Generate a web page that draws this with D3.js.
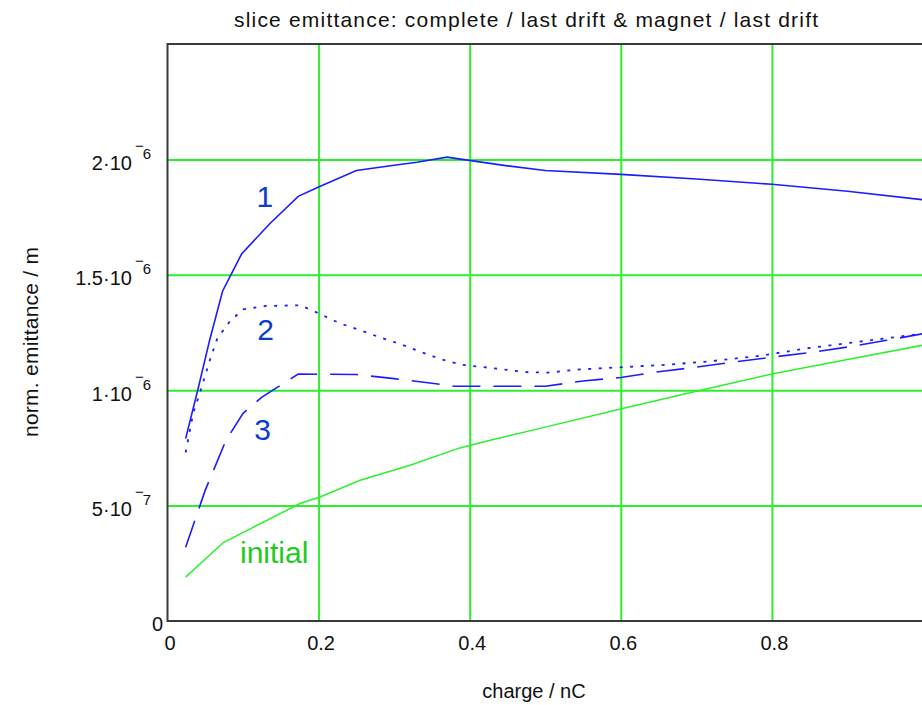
<!DOCTYPE html>
<html>
<head>
<meta charset="utf-8">
<script src="https://cdn.jsdelivr.net/npm/d3@7"></script>
<style>
  html, body { margin: 0; padding: 0; background: #ffffff; }
  svg { display: block; font-family: "Liberation Sans", Arial, Helvetica, sans-serif; }
</style>
</head>
<body>
<svg id="chart" width="922" height="705"></svg>
<script>
// ---- data: slice emittance (m) versus bunch charge (nC) ----
// curve 1: complete beamline
const chargeComplete = [0.024, 0.04, 0.056, 0.073, 0.098, 0.135, 0.173, 0.2, 0.25, 0.3, 0.33, 0.37, 0.39, 0.42, 0.45, 0.5, 0.6, 0.7, 0.8, 0.9, 1.0];
const emitComplete   = [0.79e-6, 1.0e-6, 1.22e-6, 1.43e-6, 1.59e-6, 1.72e-6, 1.84e-6, 1.88e-6, 1.952e-6, 1.975e-6, 1.988e-6, 2.01e-6, 2.0e-6, 1.986e-6, 1.972e-6, 1.952e-6, 1.935e-6, 1.915e-6, 1.892e-6, 1.862e-6, 1.825e-6];

// curve 2: last drift & magnet
const chargeDriftMagnet = [0.024, 0.034, 0.044, 0.057, 0.066, 0.083, 0.1, 0.13, 0.176, 0.2, 0.228, 0.255, 0.28, 0.308, 0.336, 0.362, 0.39, 0.432, 0.475, 0.503, 0.546, 0.603, 0.66, 0.717, 0.787, 0.843, 0.915, 1.0];
const emitDriftMagnet   = [0.73e-6, 0.90e-6, 1.0e-6, 1.14e-6, 1.225e-6, 1.30e-6, 1.35e-6, 1.365e-6, 1.368e-6, 1.333e-6, 1.29e-6, 1.26e-6, 1.23e-6, 1.20e-6, 1.165e-6, 1.134e-6, 1.11e-6, 1.095e-6, 1.078e-6, 1.076e-6, 1.09e-6, 1.10e-6, 1.11e-6, 1.125e-6, 1.15e-6, 1.18e-6, 1.21e-6, 1.245e-6];

// curve 3: last drift only
const chargeDrift = [0.024, 0.05, 0.077, 0.1, 0.125, 0.173, 0.25, 0.3, 0.35, 0.38, 0.5, 0.55, 0.6, 0.65, 0.7, 0.75, 0.8, 0.85, 0.9, 0.95, 1.0];
const emitDrift   = [0.32e-6, 0.567e-6, 0.78e-6, 0.9e-6, 0.97e-6, 1.07e-6, 1.068e-6, 1.05e-6, 1.03e-6, 1.017e-6, 1.017e-6, 1.04e-6, 1.055e-6, 1.08e-6, 1.1e-6, 1.122e-6, 1.143e-6, 1.163e-6, 1.187e-6, 1.215e-6, 1.245e-6];

// initial emittance
const chargeInitial = [0.024, 0.074, 0.11, 0.176, 0.202, 0.255, 0.321, 0.387, 0.423, 0.5, 0.601, 0.7, 0.8, 0.9, 1.0];
const emitInitial   = [0.19e-6, 0.34e-6, 0.40e-6, 0.51e-6, 0.537e-6, 0.61e-6, 0.675e-6, 0.75e-6, 0.78e-6, 0.84e-6, 0.92e-6, 0.995e-6, 1.07e-6, 1.133e-6, 1.195e-6];

// axis ticks and labels
const xGridTicks = [0.2, 0.4, 0.6, 0.8, 1.0];
const xLabelTicks = [0, 0.2, 0.4, 0.6, 0.8];
const xTickLabels = ["0", "0.2", "0.4", "0.6", "0.8"];
const yGridTicks = [0.5e-6, 1e-6, 1.5e-6, 2e-6];
const yLabelTicks = [0, 0.5e-6, 1e-6, 1.5e-6, 2e-6];
const yTickMantissa = ["0", "5", "1", "1.5", "2"];
const yTickExponent = [null, "7", "6", "6", "6"];

const titleText = "slice emittance: complete / last drift & magnet / last drift";
const xAxisTitle = "charge / nC";
const yAxisTitle = "norm. emittance / m";

// curve annotations, anchored in data units
const curveNames = ["1", "2", "3", "initial"];
const nameCharge = [0.129, 0.130, 0.126, 0.096];
const nameEmit   = [1.794e-6, 1.217e-6, 0.784e-6, 0.251e-6];

// ---- drawing ----
const svg = d3.select("#chart");
const blue = "#1c1cff", green = "#2cf02c", frameColor = "#3a3a3a";

const x = d3.scaleLinear().domain([0, 1]).range([167.5, 923]);
const y = d3.scaleLinear().domain([0, 2.5e-6]).range([621, 44]);
const [plotLeft, plotRight] = x.range();
const [plotBottom, plotTop] = y.range();

// gridlines
const gx = svg.append("g")
  .attr("transform", `translate(0,${plotBottom})`)
  .call(d3.axisBottom(x).tickValues(xGridTicks).tickSize(-(plotBottom - plotTop)).tickFormat(""));
gx.select(".domain").remove();
gx.selectAll("line").attr("stroke", green).attr("stroke-width", 2);

const gy = svg.append("g")
  .attr("transform", `translate(${plotLeft},0)`)
  .call(d3.axisLeft(y).tickValues(yGridTicks).tickSize(-(plotRight - plotLeft)).tickFormat(""));
gy.select(".domain").remove();
gy.selectAll("line").attr("stroke", green).attr("stroke-width", 2);

// curves
const line = d3.line().x(d => x(d[0])).y(d => y(d[1]));
const curves = [
  { xs: chargeInitial, ys: emitInitial, color: green, width: 1.5, dash: null },
  { xs: chargeDrift, ys: emitDrift, color: blue, width: 1.6, dash: "28,13" },
  { xs: chargeDriftMagnet, ys: emitDriftMagnet, color: blue, width: 1.8, dash: "3,7.5" },
  { xs: chargeComplete, ys: emitComplete, color: blue, width: 1.6, dash: null }
];
curves.forEach(c => {
  svg.append("path")
    .datum(d3.zip(c.xs, c.ys))
    .attr("d", line)
    .attr("fill", "none")
    .attr("stroke", c.color)
    .attr("stroke-width", c.width)
    .attr("stroke-dasharray", c.dash);
});

// frame (left, bottom and top edges)
svg.append("path")
  .attr("d", `M${plotRight},${plotTop}H${plotLeft}V${plotBottom}H${plotRight}`)
  .attr("fill", "none")
  .attr("stroke", frameColor)
  .attr("stroke-width", 2);

// x tick labels
const ax = svg.append("g")
  .attr("transform", `translate(0,${plotBottom})`)
  .call(d3.axisBottom(x).tickValues(xLabelTicks).tickSize(0)
    .tickFormat((d, i) => xTickLabels[i]));
ax.select(".domain").remove();
ax.attr("font-family", null).attr("font-size", null);
ax.selectAll("text")
  .attr("y", 29).attr("dy", 0).attr("x", 2)
  .attr("font-size", 20).attr("fill", "#111");

// y tick labels with raised exponent
const ay = svg.append("g")
  .attr("transform", `translate(${plotLeft},0)`)
  .call(d3.axisLeft(y).tickValues(yLabelTicks).tickSize(0).tickFormat(""));
ay.select(".domain").remove();
ay.attr("font-family", null).attr("font-size", null);
ay.selectAll("text").each(function (d, i) {
  const t = d3.select(this)
    .attr("dy", 0)
    .attr("font-size", 20)
    .attr("fill", "#111")
    .attr("text-anchor", "end")
    .text(null);
  if (yTickExponent[i] === null) {
    t.attr("x", -4.5).attr("y", 9);
    t.append("tspan").text(yTickMantissa[i]);
  } else {
    t.attr("x", -16.5).attr("y", 10);
    t.append("tspan").text(yTickMantissa[i] + "\u00B710");
    t.append("tspan").attr("font-size", 15).attr("dx", 3).attr("dy", -19).text("\u2212");
    t.append("tspan").attr("font-size", 15).attr("dx", -1).attr("dy", 8).text(yTickExponent[i]);
  }
});

// titles
svg.append("text")
  .attr("x", 526).attr("y", 27)
  .attr("text-anchor", "middle")
  .attr("font-size", 21).attr("fill", "#111")
  .attr("textLength", 584).attr("lengthAdjust", "spacing")
  .text(titleText);

svg.append("text")
  .attr("x", 534).attr("y", 698)
  .attr("text-anchor", "middle")
  .attr("font-size", 20).attr("fill", "#111")
  .text(xAxisTitle);

svg.append("text")
  .attr("transform", "translate(38,342) rotate(-90)")
  .attr("text-anchor", "middle")
  .attr("font-size", 21).attr("fill", "#111")
  .attr("textLength", 190).attr("lengthAdjust", "spacing")
  .text(yAxisTitle);

// curve names
curveNames.forEach((name, i) => {
  const isInitial = name === "initial";
  svg.append("text")
    .attr("x", x(nameCharge[i]))
    .attr("y", y(nameEmit[i]))
    .attr("text-anchor", isInitial ? "start" : "middle")
    .attr("font-size", 30)
    .attr("fill", isInitial ? "#1ecb1e" : "#0b3dcc")
    .text(name);
});
</script>
</body>
</html>
